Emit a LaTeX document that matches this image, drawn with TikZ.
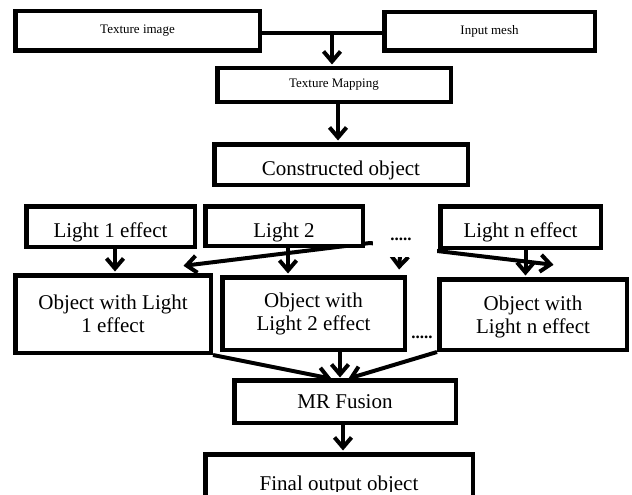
\documentclass[tikz,border=0pt]{standalone}
\usepackage{fontspec}
\setmainfont{Liberation Serif}
\usetikzlibrary{arrows.meta,calc}
\pgfdeclarelayer{bg}
\pgfsetlayers{bg,main}
\begin{document}
\begin{tikzpicture}[x=1pt,y=-1pt,
  box/.style={draw, line width=4.5pt, fill=white, inner sep=0pt, align=center},
  big/.style={font=\fontsize{21}{23}\selectfont},
  small/.style={font=\fontsize{13}{15}\selectfont},
  low/.style={text height=21pt, text depth=0pt},
  dotstyle/.style={font=\bfseries\fontsize{17}{20}\selectfont, inner sep=0pt},
  conn/.style={line width=4.5pt},
  arr/.style={line width=4pt, -{Straight Barb[length=10pt,width=17pt]}, shorten >=1.5pt},
]
\useasboundingbox (0,0) rectangle (632,495);

% boxes
\node[box,small,minimum width=244.5pt,minimum height=39.5pt] (tex) at (137.5,31) {Texture image};
\node[box,small,minimum width=210.5pt,minimum height=38.5pt] (mesh) at (489.5,31.5) {Input mesh};
\node[box,small,minimum width=233.5pt,minimum height=33.5pt] (map) at (334,85) {Texture Mapping};
\node[box,big,low,minimum width=253.5pt,minimum height=40.5pt] (cons) at (341,164.5) {Constructed object};

\node[box,big,low,minimum width=168.5pt,minimum height=40.5pt] (l1) at (110.5,226.5) {Light 1 effect};
\node[box,big,text height=23pt,text depth=0pt,minimum width=157.5pt,minimum height=39.5pt] (l2) at (284,226) {Light 2};
\node[fill=white,inner sep=0pt,minimum width=64pt,minimum height=39pt] (dotsbg) at (405,237.5) {};
\node[dotstyle] (dots1) at (401,239) {.....};
\node[box,big,low,minimum width=160.5pt,minimum height=41.5pt] (ln) at (520.5,227) {Light n effect};

\node[box,big,text depth=0pt,minimum width=195.5pt,minimum height=77.5pt] (o1) at (113,314) {Object with Light\\1 effect};
\node[box,big,minimum width=182.5pt,minimum height=72.5pt] (o2) at (313.5,313.5) {Object with\\Light 2 effect};
\node[dotstyle] (dots2) at (422,337) {.....};
\node[box,big,text depth=0pt,minimum width=187.5pt,minimum height=70.5pt] (on) at (533,314.5) {Object with\\Light n effect};

\node[box,big,minimum width=221.5pt,minimum height=42.5pt] (mr) at (345,401.5) {MR Fusion};
\node[box,minimum width=267.5pt,minimum height=71.5pt] (fin) at (339,490) {};
\begin{scope}
  \clip (0,0) rectangle (632,491);
  \node[big,anchor=base] (fintext) at (339,490) {Final output object};
\end{scope}

% connectors
\coordinate (j) at (332,33);
\coordinate (src) at (370,243);
\coordinate (lt) at (182,266);
\coordinate (rt) at (555,265);
\coordinate (dt) at (399,271);
\coordinate (m1) at (333,379);
\coordinate (m2) at (340,379);
\coordinate (m3) at (347,379);
\begin{pgfonlayer}{bg}
\draw[conn] (tex.center |- j) -- (mesh.center |- j);
\draw[arr] (j) -- (j |- map.north);
\draw[arr] ([xshift=4pt]map.south) -- ([xshift=4pt]map.south |- cons.north);
\draw[arr] ([xshift=4.5pt]l1.south) -- ([xshift=4.5pt]l1.south |- o1.north);
\draw[arr] ([xshift=4pt]l2.south) -- ([xshift=4pt]l2.south |- o2.north);
\draw[arr] (src) -- (lt);
\draw[arr] (src) -- (rt);
\draw[arr] (dots1.center) -- (dt);
\draw[arr] ([xshift=5pt]ln.south) -- ([xshift=5pt]ln.south |- on.north);
\draw[arr] (o1.south east) -- (m1);
\draw[arr] (o2.south -| m2) -- (m2);
\draw[arr] (on.south west) -- (m3);
\draw[arr] ([xshift=-2pt]mr.south) -- ([xshift=-2pt]mr.south |- fin.north);
\end{pgfonlayer}
\end{tikzpicture}
\end{document}
